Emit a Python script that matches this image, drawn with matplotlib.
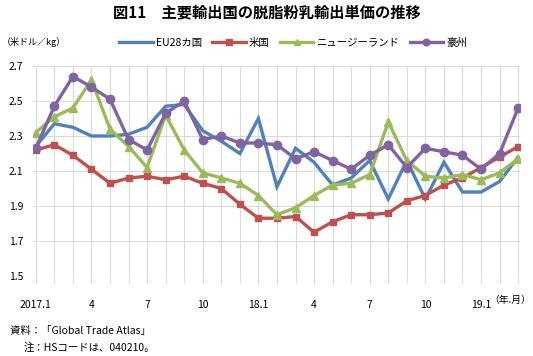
import matplotlib
matplotlib.use("Agg")
import matplotlib.pyplot as plt
import numpy as np

plt.rcParams['font.family'] = ['Noto Sans CJK JP', 'DejaVu Sans']

# 2017.1 ～ 2019.3 の月次データ（米ドル/kg）
mois = list(range(27))
etiquettes_x = {0: "2017.1", 3: "4", 6: "7", 9: "10", 12: "18.1", 15: "4",
                18: "7", 21: "10", 24: "19.1"}

eu28 = [2.24, 2.37, 2.35, 2.30, 2.30, 2.31, 2.35, 2.47, 2.48, 2.33, 2.27, 2.20,
        2.40, 2.01, 2.23, 2.15, 2.02, 2.06, 2.16, 1.94, 2.16, 1.94, 2.15, 1.98,
        1.98, 2.04, 2.18]
usa = [2.22, 2.25, 2.19, 2.11, 2.03, 2.06, 2.07, 2.05, 2.07, 2.03, 2.00, 1.91,
       1.83, 1.83, 1.84, 1.75, 1.81, 1.85, 1.85, 1.86, 1.93, 1.96, 2.02, 2.06,
       2.12, 2.18, 2.24]
nz = [2.32, 2.41, 2.46, 2.62, 2.34, 2.24, 2.12, 2.42, 2.22, 2.09, 2.06, 2.03,
      1.96, 1.85, 1.89, 1.96, 2.02, 2.03, 2.08, 2.38, 2.16, 2.07, 2.06, 2.08,
      2.05, 2.09, 2.17]
australie = [2.23, 2.47, 2.64, 2.58, 2.51, 2.28, 2.22, 2.43, 2.50, 2.28, 2.30, 2.26,
             2.26, 2.25, 2.17, 2.21, 2.16, 2.11, 2.19, 2.25, 2.12, 2.23, 2.21, 2.19,
             2.11, 2.20, 2.46]

series = [
    ("EU28カ国", eu28, "#4F81BD", None, 0),
    ("米国", usa, "#C0504D", "s", 5),
    ("ニュージーランド", nz, "#9BBB59", "^", 5.5),
    ("豪州", australie, "#8064A2", "o", 6),
]

fig = plt.figure(figsize=(5.33, 3.56), dpi=100)
ax = fig.add_axes([33/533, 1 - 276/356, 487/533, 210/356])

for nom, vals, coul, mk, ms in series:
    ax.plot(mois, vals, color=coul, lw=2.4, marker=mk, markersize=ms,
            markeredgecolor=coul, label=nom, solid_joinstyle='miter')

ax.set_ylim(1.5, 2.7)
ax.set_yticks(np.arange(1.5, 2.71, 0.2))
ax.set_yticklabels([f"{v:.1f}" for v in np.arange(1.5, 2.71, 0.2)])
ax.set_xlim(-0.15, 26.1)
ax.set_xticks(mois)
ax.set_xticklabels([etiquettes_x.get(m, "") for m in mois])
ax.grid(True, color="#D9D9D9", lw=0.7)
ax.set_axisbelow(True)
for s in ax.spines.values():
    s.set_visible(False)
ax.tick_params(axis='x', length=5, color="#D9D9D9", pad=12, labelsize=7.5)
ax.tick_params(axis='y', length=0, pad=7, labelsize=7.5)

fig.text(0.5, 0.965, "図11　主要輸出国の脱脂粉乳輸出単価の推移", ha='center', va='center',
         fontsize=11, fontweight='bold')
fig.text(0.004, 0.882, "（米ドル／kg）", ha='left', va='center', fontsize=6.5)
leg = fig.legend(loc='center', bbox_to_anchor=(0.55, 0.88), ncol=4, frameon=False,
                 fontsize=7.5, handlelength=3.2, handletextpad=0.3, columnspacing=1.0,
                 markerscale=0.8)
fig.text(531/533, 1 - 300/356, "（年.月）", ha='right', va='center', fontsize=7)
fig.text(10/533, 1 - 331/356, "資料：「Global Trade Atlas」", ha='left', va='center', fontsize=7.5)
fig.text(24/533, 1 - 348/356, "注：HSコードは、040210。", ha='left', va='center', fontsize=7.5)

fig.savefig("out.png", dpi=100)
